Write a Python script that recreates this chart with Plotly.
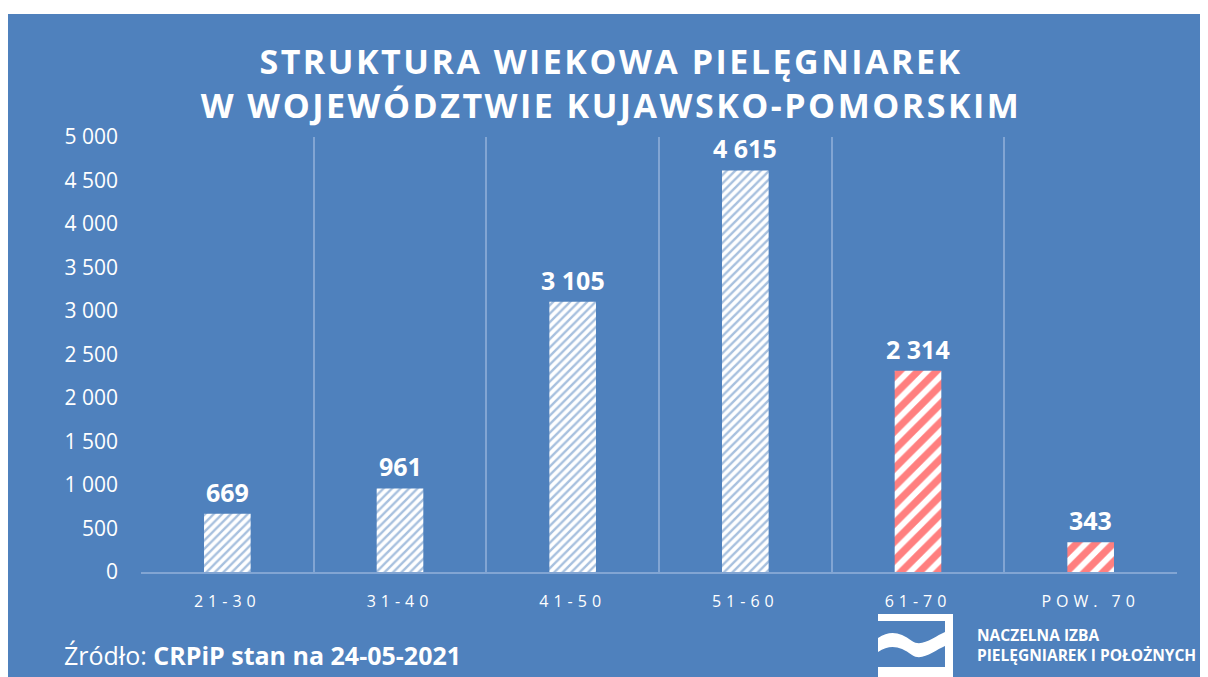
import plotly.graph_objects as go

# ---- data ----
categories = ["21-30", "31-40", "41-50", "51-60", "61-70", "POW. 70"]
values = [669, 961, 3105, 4615, 2314, 343]
y_ticks = [0, 500, 1000, 1500, 2000, 2500, 3000, 3500, 4000, 4500, 5000]

BLUE = "#4F81BD"
RED = "#FF0000"
GRID = "#82A5D3"
FONT = "Open Sans"

OFF = 8  # page body margin
W, H = 1200, 669
L, R, T, B = 141 - OFF, 1177 - OFF, 137 - OFF, 572 - OFF  # plot area in figure pixels


def px(xs, ys):
    """screen pixel -> paper coords"""
    xp, yp = xs - OFF, ys - OFF
    return (xp - L) / (R - L), (B - yp) / (B - T)


fg = [BLUE] * 4 + [RED] * 2
psize = [6] * 4 + [13] * 2
psol = [0.4] * 4 + [0.55] * 2

fig = go.Figure()
fig.add_trace(go.Bar(
    x=categories, y=values, width=0.27,
    marker=dict(color="white", line=dict(width=0),
                pattern=dict(shape="/", fgcolor=fg, bgcolor="white",
                             size=psize, solidity=psol)),
    hoverinfo="skip",
))

annotations = []
for c, v in zip(categories, values):
    annotations.append(dict(
        x=c, y=v, xref="x", yref="y", text=f"{v:,}".replace(",", " "),
        showarrow=False, yanchor="bottom", yshift=3,
        font=dict(family=FONT, size=25, color="white", weight="bold"),
    ))

# footer
fx, fy = px(62, 655)
annotations.append(dict(
    x=fx, y=fy, xref="paper", yref="paper", xanchor="left", yanchor="middle",
    text="Źródło: <b>CRPiP stan na 24-05-2021</b>", showarrow=False,
    font=dict(family=FONT, size=25, color="white"),
))
# logo text
lx, ly = px(975, 645)
annotations.append(dict(
    x=lx, y=ly, xref="paper", yref="paper", xanchor="left", yanchor="middle",
    text="<b>NACZELNA IZBA<br>PIELĘGNIAREK I POŁOŻNYCH</b>", showarrow=False,
    align="left",
    font=dict(family=FONT, size=15.5, color="white"),
))

shapes = []
# blue background panel
x0, y0 = px(8, 14)
x1, y1 = px(1208, 677)
shapes.append(dict(type="rect", xref="paper", yref="paper", x0=x0, y0=y0, x1=x1, y1=y1,
                   fillcolor=BLUE, line=dict(width=0), layer="below"))
# logo bars
for (a, b, c, d) in [(878, 614, 953, 621), (945, 614, 953, 677), (878, 667, 953, 677)]:
    ax, ay = px(a, b)
    cx, cy = px(c, d)
    shapes.append(dict(type="rect", xref="paper", yref="paper", x0=ax, y0=ay, x1=cx, y1=cy,
                       fillcolor="white", line=dict(width=0), layer="above"))
# logo wave
pts = [("M", [(878, 638)]), ("C", [(890, 630), (900, 632), (912, 641)]),
       ("C", [(922, 648), (935, 636), (945, 632)]), ("L", [(945, 646)]),
       ("C", [(935, 650), (922, 662), (912, 655)]), ("C", [(900, 646), (890, 644), (878, 652)])]
path = ""
for cmd, pl in pts:
    path += cmd + " " + " ".join("%.5f,%.5f" % px(a, b) for a, b in pl) + " "
path += "Z"
shapes.append(dict(type="path", xref="paper", yref="paper", path=path,
                   fillcolor="white", line=dict(width=0), layer="above"))

fig.update_layout(
    width=W, height=H,
    margin=dict(l=L, r=W - R, t=T, b=H - B, pad=0),
    paper_bgcolor="white", plot_bgcolor="rgba(0,0,0,0)",
    separators=", ",
    showlegend=False,
    title=dict(text="<b>STRUKTURA WIEKOWA PIELĘGNIAREK<br>W WOJEWÓDZTWIE KUJAWSKO-POMORSKIM</b>",
               x=(611 - OFF) / W, xref="container", xanchor="center",
               y=1 - (73.5 - OFF) / H, yref="container", yanchor="middle",
               font=dict(family=FONT, size=34, color="white")),
    xaxis=dict(type="category", tickson="boundaries", showgrid=True, gridcolor=GRID, gridwidth=1.5,
               ticks="", showline=True, linecolor=GRID, linewidth=1.5,
               tickfont=dict(family=FONT, size=16, color="white"), ticklabelstandoff=14,
               range=[-0.5, 5.5], fixedrange=True),
    yaxis=dict(range=[0, 5000], tickvals=y_ticks, tickformat=",d", showgrid=False,
               zeroline=False, showline=False, ticks="",
               tickfont=dict(family=FONT, size=21, color="white"), ticklabelstandoff=22,
               fixedrange=True),
    annotations=annotations,
    shapes=shapes,
)

post = """
var gd = document.getElementById('{plot_id}');
function ls(){
  gd.querySelectorAll('.xtick text').forEach(function(t){t.style.letterSpacing='5px';});
  gd.querySelectorAll('.gtitle').forEach(function(t){t.style.letterSpacing='2.5px';});
}
ls();
if (gd.on) { gd.on('plotly_afterplot', ls); }
"""
fig.write_html("out.html", post_script=post, config={"displayModeBar": False})
